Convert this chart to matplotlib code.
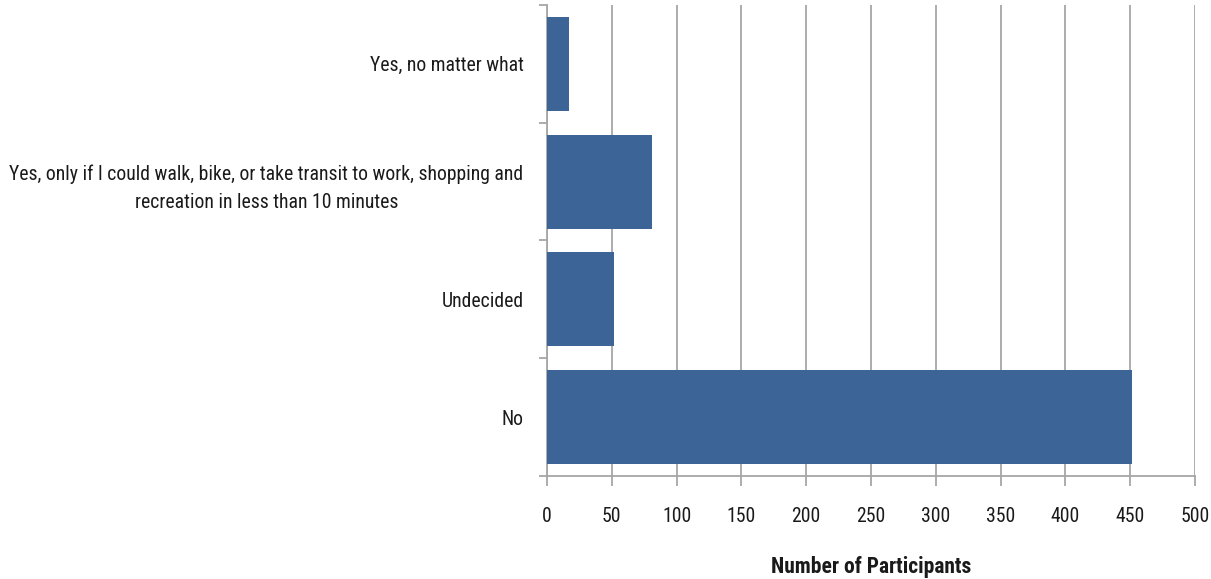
import matplotlib.pyplot as plt
from matplotlib import font_manager

# survey answers, top to bottom
answers = [
    "Yes, no matter what",
    "Yes, only if I could walk, bike, or take transit to work, shopping and\nrecreation in less than 10 minutes",
    "Undecided",
    "No",
]
participants = [17, 81, 52, 451]
xticks = [0, 50, 100, 150, 200, 250, 300, 350, 400, 450, 500]

names = {f.name for f in font_manager.fontManager.ttflist}
fam = [f for f in ["Roboto Condensed", "Liberation Sans Narrow", "Open Sans Condensed", "DejaVu Sans"] if f in names]
plt.rcParams['font.family'] = fam
plt.rcParams['font.stretch'] = 'condensed'

fig = plt.figure(figsize=(12.11, 5.79), dpi=100)
ax = fig.add_axes([0.4517, 0.1779, 0.5351, 0.8135])

pos = list(range(len(answers)))[::-1]
ax.barh(pos, participants, height=0.8, color='#3C6496', zorder=3)

ax.set_xlim(0, 500)
ax.set_ylim(-0.5, len(answers) - 0.5)
ax.set_xticks(xticks)
ax.set_xticklabels([str(t) for t in xticks], fontsize=14.2, color='#1a1a1a')
ax.tick_params(axis='x', length=7, width=1.3, color='#A6A6A6', pad=15)

ax.set_yticks(pos)
ax.set_yticklabels(answers, fontsize=14.2, color='#1a1a1a', multialignment='center', linespacing=1.6)
ax.tick_params(axis='y', length=0, pad=17)
# boundary ticks between categories
ax.set_yticks([p - 0.5 for p in range(len(answers) + 1)], minor=True)
ax.tick_params(axis='y', which='minor', length=6, width=1.3, color='#A6A6A6')

ax.grid(axis='x', color='#A6A6A6', linewidth=1.3, zorder=0)
for s in ['top', 'right']:
    ax.spines[s].set_visible(False)
for s in ['left', 'bottom']:
    ax.spines[s].set_color('#A6A6A6')
    ax.spines[s].set_linewidth(1.3)

ax.set_xlabel('Number of Participants', fontsize=15.5, fontweight='bold', color='#1a1a1a', labelpad=22)

fig.savefig('out.png', dpi=100)
